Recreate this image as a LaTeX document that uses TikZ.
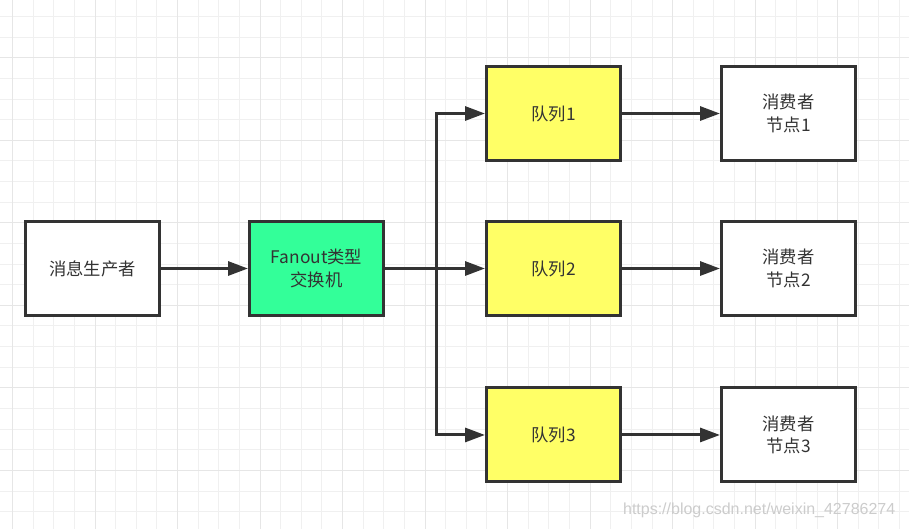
\documentclass[tikz,border=0pt]{standalone}
\usepackage{fontspec}
\setmainfont{Noto Sans CJK SC}
\newfontfamily\wmfont{Liberation Sans}
\usetikzlibrary{arrows.meta,positioning,calc}
\definecolor{ink}{HTML}{333333}
\definecolor{exch}{HTML}{33FF99}
\definecolor{queue}{HTML}{FFFF66}
\definecolor{gridminor}{HTML}{F0F0F0}
\definecolor{gridmajor}{HTML}{E6E6E6}

\begin{document}
\begin{tikzpicture}[
  x=0.75pt, y=-0.75pt, color=ink,
  font=\fontsize{13pt}{17pt}\selectfont,
  node distance=43.5pt and 65.25pt,
  box/.style={draw=ink, fill=white, line width=2.25pt, minimum width=100.5pt,
              minimum height=70.5pt, align=center, text=ink},
  exbox/.style={box, fill=exch},
  qbox/.style={box, fill=queue},
  flow/.style={-{Triangle[length=15pt,width=10.5pt]}, line width=2.25pt, color=ink},
  minor grid/.style={draw=gridminor, line width=0.75pt},
  major grid/.style={draw=gridmajor, line width=0.75pt},
]
\useasboundingbox (0,0) rectangle (909,529);
\fill[white] (0,0) rectangle (909,529);

% background grid
\foreach \k in {0,...,43} \draw[minor grid] ({12.5+20.63*\k},0) -- ++(0,529);
\foreach \k in {0,...,24} \draw[minor grid] (0,{16.5+20.63*\k}) -- ++(909,0);
\foreach \k in {0,4,...,40} \draw[major grid] ({12.5+20.63*\k},0) -- ++(0,529);
\foreach \k in {2,6,...,22} \draw[major grid] (0,{16.5+20.63*\k}) -- ++(909,0);

% nodes
\node[box] (producer) at (92.5,268.5) {消息生产者};
\node[exbox, right=of producer] (exchange) {Fanout类型\\交换机};
\node[qbox, right=75pt of exchange] (queue2) {队列2};
\node[qbox, above=of queue2] (queue1) {队列1};
\node[qbox, below=52.1pt of queue2] (queue3) {队列3};
\foreach \i in {1,2,3}
  \node[box, right=73.5pt of queue\i] (consumer\i) {消费者\\节点\i};

% fanout
\coordinate (split) at ($(exchange.east)+(51,0)$);
\draw[flow] (producer) -- (exchange);
\draw[flow] (exchange) -- (queue2);
\draw[flow] (split) |- (queue1);
\draw[flow] (split) |- (queue3);
\foreach \i in {1,2,3}
  \draw[flow] (queue\i) -- (consumer\i);

% watermark
\node[font=\wmfont\fontsize{12pt}{14pt}\selectfont, text=gray!40, anchor=east]
  (watermark) at (900,510) {https://blog.csdn.net/weixin\_42786274};
\end{tikzpicture}
\end{document}
